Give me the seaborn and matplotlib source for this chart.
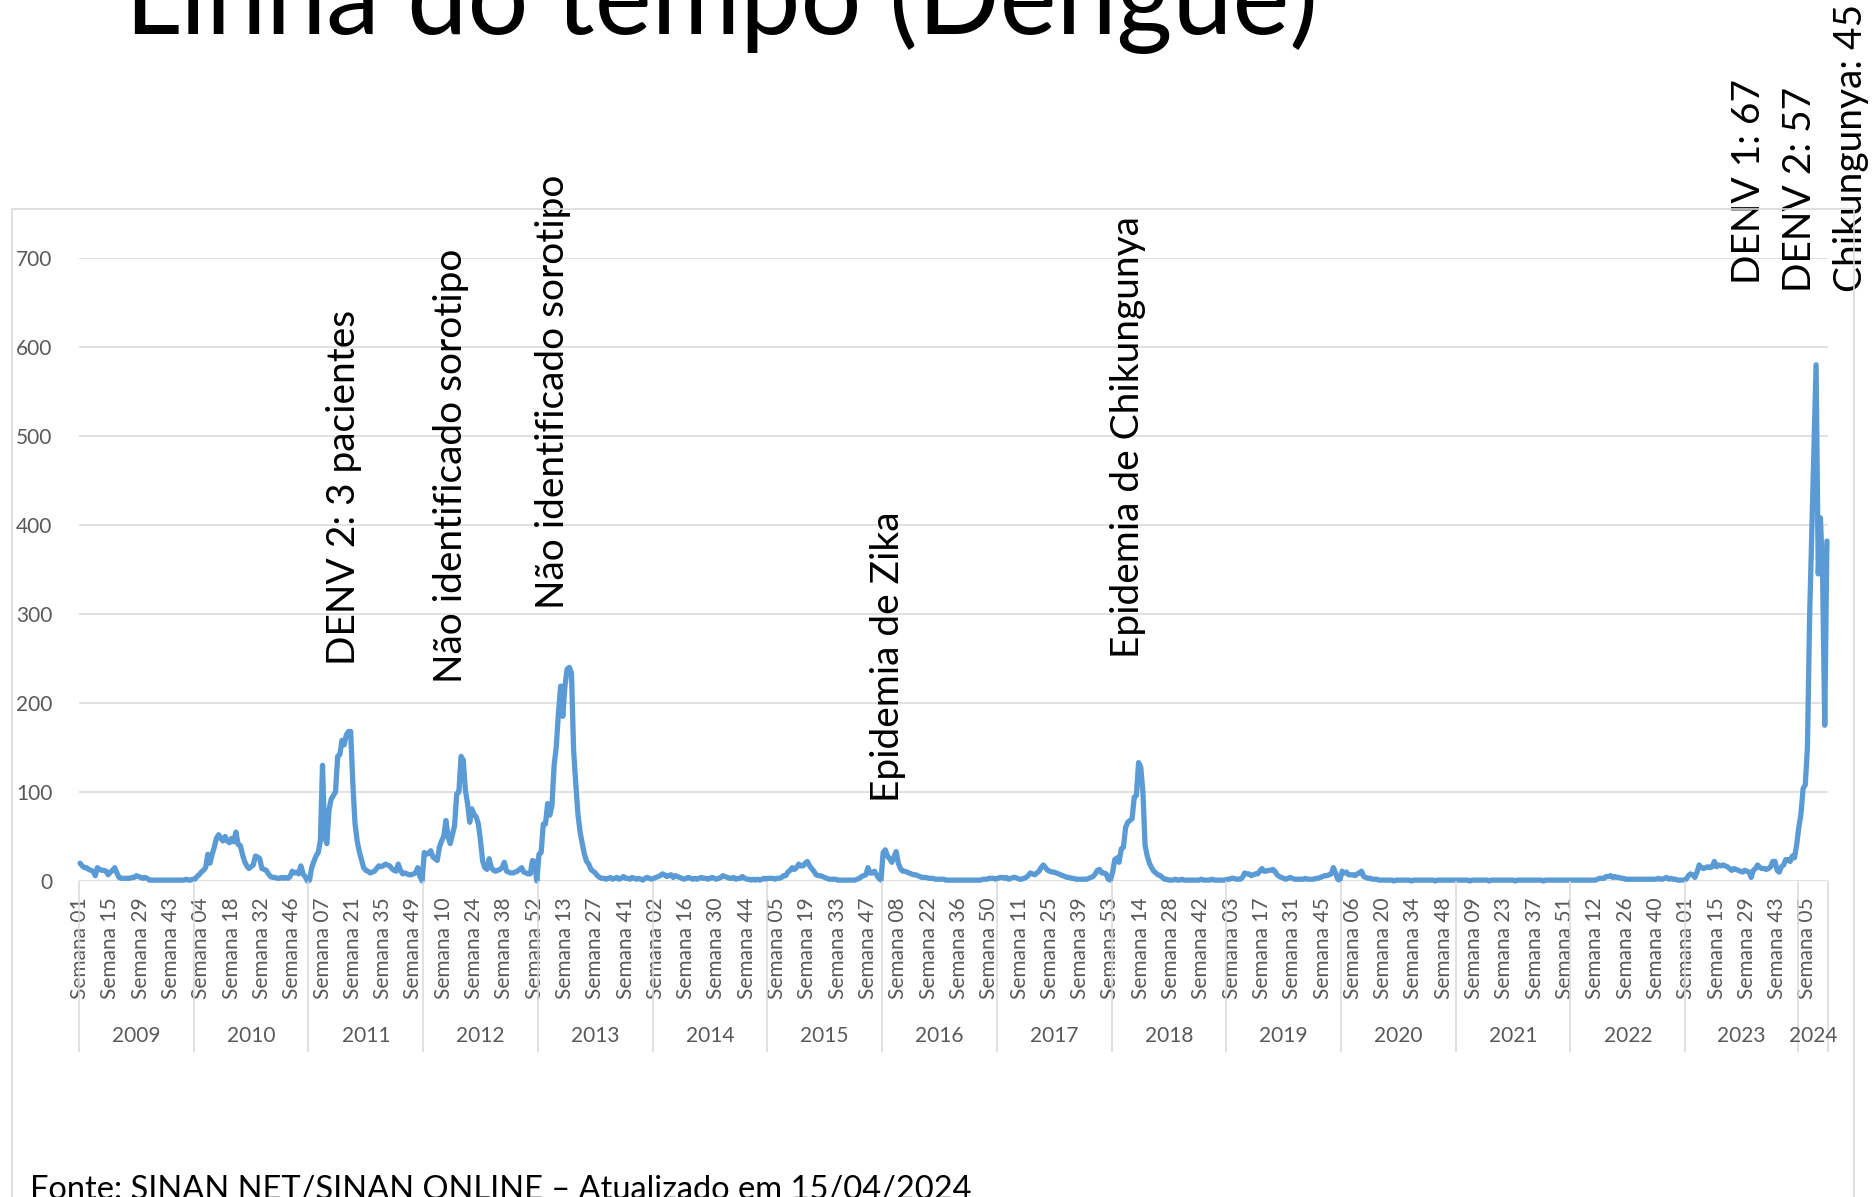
import numpy as np
import pandas as pd
import matplotlib
matplotlib.use("Agg")
import matplotlib.pyplot as plt
import seaborn as sns
from matplotlib.patches import Rectangle

# ---------------- data (weekly cases) ----------------
years = [2009, 2010, 2011, 2012, 2013, 2014, 2015, 2016,
         2017, 2018, 2019, 2020, 2021, 2022, 2023, 2024]

cases_2009 = [20, 17, 15, 15, 13, 12, 11, 6, 15, 13,
              12, 12, 11, 7, 10, 12, 15, 9, 4, 3,
              3, 3, 3, 3, 4, 4, 6, 5, 4, 3,
              4, 3, 1, 1, 1, 1, 1, 1, 1, 1,
              1, 1, 1, 1, 1, 1, 1, 1, 1, 2, 1, 1, 2]
cases_2010 = [2, 5, 7, 10, 12, 15, 30, 20, 30, 38,
              48, 52, 48, 45, 50, 45, 43, 48, 44, 55,
              41, 40, 30, 22, 17, 14, 16, 18, 28, 27,
              25, 14, 13, 12, 8, 5, 4, 4, 3, 3,
              4, 3, 4, 3, 5, 11, 9, 10, 8, 17, 8, 5, 0]
cases_2011 = [1, 15, 22, 28, 32, 45, 130, 50, 42, 80,
              92, 96, 100, 140, 142, 158, 153, 164, 168, 168,
              110, 65, 45, 33, 24, 15, 12, 11, 9, 10,
              11, 14, 17, 16, 17, 19, 18, 17, 14, 12,
              11, 19, 12, 8, 9, 8, 7, 7, 8, 9, 15, 5, 0]
cases_2012 = [32, 30, 31, 34, 27, 25, 23, 38, 45, 50,
              68, 50, 42, 52, 62, 98, 100, 140, 136, 102,
              87, 66, 81, 75, 72, 64, 45, 22, 15, 13,
              25, 15, 12, 11, 12, 13, 15, 21, 11, 10,
              9, 9, 10, 11, 13, 15, 10, 9, 8, 8, 23, 22, 0]
cases_2013 = [30, 32, 64, 64, 87, 74, 85, 130, 151, 189,
              219, 185, 219, 238, 240, 234, 147, 109, 75, 55,
              42, 30, 22, 19, 13, 11, 9, 6, 4, 3,
              3, 2, 3, 4, 2, 3, 4, 2, 3, 5,
              3, 3, 2, 4, 3, 2, 3, 2, 1, 3, 4, 3, 2]
cases_2014 = [3, 4, 5, 6, 8, 7, 5, 6, 7, 4,
              6, 5, 4, 3, 2, 3, 4, 3, 2, 3,
              2, 3, 4, 3, 3, 2, 3, 4, 3, 2,
              3, 4, 6, 5, 4, 3, 3, 4, 2, 3,
              3, 5, 3, 2, 2, 1, 2, 1, 2, 1, 2, 3, 2]
cases_2015 = [3, 3, 3, 2, 3, 3, 4, 6, 6, 10,
              12, 15, 13, 15, 19, 17, 17, 20, 22, 17,
              14, 11, 7, 6, 6, 5, 4, 3, 2, 2,
              2, 2, 1, 1, 1, 1, 1, 1, 1, 1,
              1, 2, 3, 5, 6, 7, 15, 9, 9, 11, 7, 3, 1]
cases_2016 = [32, 35, 28, 25, 21, 27, 33, 20, 14, 11,
              11, 10, 9, 8, 7, 7, 6, 5, 4, 4,
              4, 3, 3, 3, 2, 2, 2, 2, 2, 1,
              1, 1, 1, 1, 1, 1, 1, 1, 1, 1,
              1, 1, 1, 1, 1, 1, 2, 2, 2, 3, 3, 3, 2]
cases_2017 = [3, 4, 4, 3, 4, 2, 3, 4, 4, 3,
              2, 2, 3, 4, 6, 9, 8, 7, 9, 11,
              15, 18, 15, 12, 11, 10, 10, 9, 8, 7,
              6, 5, 4, 4, 3, 3, 2, 2, 2, 2,
              2, 2, 3, 4, 5, 8, 12, 13, 9, 9, 8, 2, 1]
cases_2018 = [10, 24, 26, 21, 36, 38, 60, 66, 68, 70,
              94, 96, 133, 128, 100, 40, 28, 20, 15, 11,
              9, 7, 6, 4, 2, 2, 1, 1, 1, 2,
              1, 1, 2, 1, 1, 1, 1, 1, 1, 1,
              1, 2, 1, 1, 1, 1, 2, 1, 1, 1, 1, 1, 1]
cases_2019 = [2, 2, 3, 3, 2, 2, 2, 4, 9, 8,
              8, 6, 7, 8, 8, 11, 14, 11, 11, 12,
              12, 13, 11, 7, 5, 4, 3, 2, 3, 4,
              3, 2, 2, 2, 2, 2, 3, 2, 2, 2,
              2, 3, 3, 4, 5, 6, 6, 7, 8, 15, 9, 2, 1]
cases_2020 = [11, 9, 10, 7, 7, 7, 6, 8, 9, 11,
              5, 4, 3, 3, 2, 2, 2, 1, 1, 1,
              1, 1, 1, 1, 0, 1, 1, 1, 1, 1,
              1, 1, 0, 1, 1, 1, 1, 1, 1, 1,
              1, 1, 1, 0, 1, 1, 1, 1, 1, 1, 1, 1, 1]
cases_2021 = [1, 1, 1, 1, 1, 1, 0, 1, 1, 1,
              1, 1, 1, 1, 1, 0, 1, 1, 1, 1,
              1, 1, 1, 1, 1, 1, 1, 0, 1, 1,
              1, 1, 1, 1, 1, 1, 1, 1, 1, 1,
              0, 1, 1, 1, 1, 1, 1, 1, 1, 1, 1, 1, 1]
cases_2022 = [1, 1, 1, 1, 1, 1, 1, 1, 1, 1,
              1, 1, 2, 3, 3, 3, 5, 5, 6, 4,
              5, 4, 4, 3, 3, 2, 2, 2, 2, 2,
              2, 2, 2, 2, 2, 2, 2, 2, 2, 2,
              3, 2, 2, 3, 4, 2, 3, 2, 2, 1, 1, 1, 1]
cases_2023 = [2, 6, 8, 7, 4, 10, 18, 15, 14, 15,
              16, 15, 16, 22, 16, 18, 17, 18, 17, 16,
              14, 12, 14, 13, 12, 11, 10, 12, 11, 10,
              4, 12, 14, 18, 15, 14, 14, 13, 14, 16,
              22, 22, 12, 10, 16, 18, 24, 24, 22, 28, 26, 40]
cases_2024 = [60, 75, 104, 108, 150, 296, 390, 480, 580, 345, 408, 345, 175, 382]

year_series = [cases_2009, cases_2010, cases_2011, cases_2012, cases_2013,
               cases_2014, cases_2015, cases_2016, cases_2017, cases_2018,
               cases_2019, cases_2020, cases_2021, cases_2022, cases_2023,
               cases_2024]

annotation_texts = ["DENV 2: 3 pacientes", "Não identificado sorotipo",
                    "Não identificado sorotipo", "Epidemia de Zika",
                    "Epidemia de Chikungunya", "DENV 1: 67", "DENV 2: 57",
                    "Chikungunya: 45"]

title_text = "Linha do tempo (Dengue)"
source_text = "Fonte: SINAN NET/SINAN ONLINE \u2013 Atualizado em 15/04/2024"

# ---------------- table ----------------
rows = []
for yr, vals in zip(years, year_series):
    for wk, v in enumerate(vals, start=1):
        rows.append((yr, wk, v))
df = pd.DataFrame(rows, columns=["ano", "semana", "casos"])
df["pos"] = np.arange(len(df)) + 0.5
n = len(df)

# ---------------- figure ----------------
sns.set_theme(style="white")
plt.rcParams["font.family"] = ["Lato", "DejaVu Sans"]

W, H = 1872, 1197
fig = plt.figure(figsize=(W / 100, H / 100), dpi=100)
fig.patch.set_facecolor("white")
L, R, T, B = 79, 1828, 258, 881
ax = fig.add_axes([L / W, 1 - B / H, (R - L) / W, (B - T) / H])

sns.lineplot(data=df, x="pos", y="casos", ax=ax, color="#5b9bd5",
             linewidth=3.8, solid_joinstyle="round", solid_capstyle="round",
             clip_on=False)

ax.set_xlim(0, n)
ax.set_ylim(0, 700)
ax.set_yticks(range(0, 701, 100))
ax.yaxis.grid(True, color="#d9d9d9", linewidth=1.1)
ax.xaxis.grid(False)
ax.set_axisbelow(True)
for s in ax.spines.values():
    s.set_visible(False)
ax.tick_params(axis="y", length=0, pad=19, labelsize=15, labelcolor="#595959")

tick_idx = np.arange(0, n, 14)
ax.set_xticks(df["pos"].values[tick_idx])
ax.set_xticklabels([f"Semana {w:02d}" for w in df["semana"].values[tick_idx]],
                   rotation=90, fontsize=15, color="#595959")
ax.tick_params(axis="x", length=0, pad=12)
ax.set_xlabel("")
ax.set_ylabel("")

# year separators and labels (multi-level category axis)
counts = [len(v) for v in year_series]
bounds = np.concatenate([[0], np.cumsum(counts)])
xtr = ax.get_xaxis_transform()
sep_bottom = -(1052 - B) / (B - T)
ax.vlines(bounds, sep_bottom, 0, transform=xtr, colors="#d9d9d9",
          linewidth=1.1, clip_on=False)
label_y = -(1036 - B) / (B - T)
for yr, a, b in zip(years, bounds[:-1], bounds[1:]):
    ax.text((a + b) / 2, label_y, str(yr), transform=xtr, ha="center",
            va="center", fontsize=15, color="#595959")

# annotations (rotated event labels)
px_per_cat = (R - L) / n
px_per_unit = (B - T) / 700
ann_px = [(344, 665), (451, 683), (553, 609), (888, 802), (1128, 658),
          (1749, 284), (1800, 292), (1851, 292)]
for txt, (px, py) in zip(annotation_texts, ann_px):
    ax.text((px - L) / px_per_cat, (B - py) / px_per_unit, txt, rotation=90,
            ha="center", va="bottom", fontsize=28, color="black", clip_on=False)

# title and source
fig.text(125 / W, 1 - 34 / H, title_text, fontsize=77.5, fontweight="normal",
         ha="left", va="baseline", color="black")
fig.text(30 / W, 1 - 1199 / H, source_text, fontsize=23.5, ha="left",
         va="baseline", color="black")

# chart border
fig.patches.append(Rectangle((12 / W, -0.05), (1854 - 12) / W, (1 - 209 / H) + 0.05,
                             transform=fig.transFigure, fill=False,
                             edgecolor="#d9d9d9", linewidth=1.2))

fig.savefig("out.png", dpi=100, facecolor="white")
